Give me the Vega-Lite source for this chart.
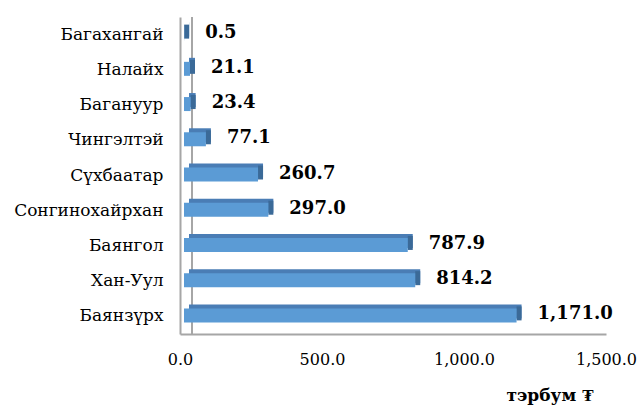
{
  "$schema": "https://vega.github.io/schema/vega-lite/v6.json",
  "autosize": {"type": "none"},
  "padding": {"left": 180, "top": 17, "right": 33, "bottom": 74},
  "width": 426,
  "height": 317,
  "background": "white",
  "config": {
    "view": {"stroke": null},
    "font": "DejaVu Serif"
  },
  "data": {
    "values": [
      {"district": "Багахангай", "value": 0.5},
      {"district": "Налайх", "value": 21.1},
      {"district": "Багануур", "value": 23.4},
      {"district": "Чингэлтэй", "value": 77.1},
      {"district": "Сүхбаатар", "value": 260.7},
      {"district": "Сонгинохайрхан", "value": 297.0},
      {"district": "Баянгол", "value": 787.9},
      {"district": "Хан-Уул", "value": 814.2},
      {"district": "Баянзүрх", "value": 1171.0}
    ]
  },
  "encoding": {
    "y": {
      "field": "district",
      "type": "nominal",
      "sort": null,
      "axis": {
        "title": null,
        "ticks": false,
        "labelFont": "DejaVu Serif",
        "labelFontSize": 17,
        "labelColor": "#000000",
        "labelPadding": 17,
        "domainColor": "#A6A6A6",
        "domainWidth": 2
      }
    }
  },
  "layer": [
    {
      "mark": {"type": "rule", "color": "#A6A6A6", "strokeWidth": 2, "xOffset": 12},
      "encoding": {"x": {"datum": 0, "type": "quantitative", "scale": {"domain": [0, 1500]}}, "y": null}
    },
    {
      "mark": {"type": "bar", "color": "#4A7DB5", "size": 14, "xOffset": 9, "yOffset": -5, "x2Offset": 9},
      "encoding": {
        "x": {"field": "value", "type": "quantitative", "scale": {"domain": [0, 1500]}}
      }
    },
    {
      "mark": {"type": "bar", "color": "#3B6A98", "size": 14, "xOffset": 4, "x2Offset": 9, "yOffset": -3},
      "encoding": {
        "x": {"field": "value", "type": "quantitative", "scale": {"domain": [0, 1500]}},
        "x2": {"field": "value"}
      }
    },
    {
      "mark": {"type": "bar", "color": "#5B9BD5", "size": 14, "xOffset": 4, "x2Offset": 4, "yOffset": -1},
      "encoding": {
        "x": {
          "field": "value",
          "type": "quantitative",
          "scale": {"domain": [0, 1500]},
          "axis": {
            "format": ",.1f",
            "values": [0, 500, 1000, 1500],
            "grid": false,
            "ticks": false,
            "labelFont": "DejaVu Serif",
            "labelFontSize": 16,
            "labelColor": "#000000",
            "labelPadding": 17,
            "domainColor": "#A6A6A6",
            "domainWidth": 2,
            "labelFlush": false,
            "title": "тэрбум ₮",
            "titleFont": "DejaVu Serif",
            "titleFontSize": 17,
            "titleFontWeight": "bold",
            "titleColor": "#000000",
            "titleAlign": "right",
            "titleAnchor": "end",
            "titleBaseline": "alphabetic",
            "titleX": 413,
            "titleY": 66
          }
        }
      }
    },
    {
      "mark": {"type": "text", "align": "left", "baseline": "middle", "dx": 25, "dy": -2, "font": "DejaVu Serif", "fontSize": 18, "fontWeight": "bold", "color": "#000000"},
      "encoding": {
        "x": {"field": "value", "type": "quantitative", "scale": {"domain": [0, 1500]}},
        "text": {"field": "value", "type": "quantitative", "format": ",.1f"}
      }
    }
  ]
}
